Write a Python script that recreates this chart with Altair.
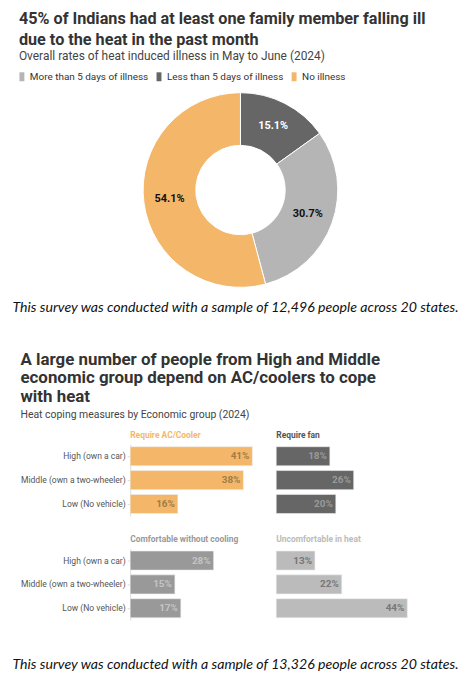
import altair as alt
import pandas as pd

# ---------------- data ----------------
title1 = ["45% of Indians had at least one family member falling ill",
          "due to the heat in the past month"]
subtitle1 = "Overall rates of heat induced illness in May to June (2024)"
ill_cats = ["Less than 5 days of illness", "More than 5 days of illness", "No illness"]
ill_vals = [15.1, 30.7, 54.1]
legend_order = ["More than 5 days of illness", "Less than 5 days of illness", "No illness"]
legend_colors = ["#b5b5b5", "#666666", "#f4b76a"]
footnote1 = "This survey was conducted with a sample of 12,496 people across 20 states."

title2 = ["A large number of people from High and Middle",
          "economic group depend on AC/coolers to cope",
          "with heat"]
subtitle2 = "Heat coping measures by Economic group (2024)"
groups = ["High (own a car)", "Middle (own a two-wheeler)", "Low (No vehicle)"]
measures = ["Require AC/Cooler", "Require fan", "Comfortable without cooling", "Uncomfortable in heat"]
ac = [41, 38, 16]
fan = [18, 26, 20]
comfortable = [28, 15, 17]
uncomfortable = [13, 22, 44]
footnote2 = "This survey was conducted with a sample of 13,326 people across 20 states."

TITLE_FONT = "Roboto"
BODY_FONT = "Roboto"

# ---------------- donut ----------------
donut_df = pd.DataFrame({
    "cat": ill_cats,
    "val": ill_vals,
    "ord": list(range(len(ill_cats))),
    "label": [f"{v}%" for v in ill_vals],
})

dbase = alt.Chart(donut_df).encode(
    theta=alt.Theta("val:Q", stack=True),
    order=alt.Order("ord:Q"),
)
arcs = dbase.mark_arc(innerRadius=45, outerRadius=98, stroke="white", strokeWidth=1).encode(
    color=alt.Color(
        "cat:N",
        scale=alt.Scale(domain=legend_order, range=legend_colors),
        legend=alt.Legend(
            title=None, orient="none", legendX=-114, legendY=-21, direction="horizontal",
            symbolType="M-0.55,-1H0.55V1H-0.55Z", symbolSize=81, symbolStrokeWidth=0,
            labelFontSize=10, labelColor="#333", labelFont=BODY_FONT,
            columnPadding=5, labelOffset=3, symbolOffset=0,
        ),
    )
)
dlabels = dbase.mark_text(radius=72, fontWeight="bold", fontSize=11, font=BODY_FONT).encode(
    text="label:N",
    color=alt.condition(alt.datum.ord == 0, alt.value("white"), alt.value("#111")),
)
donut = (arcs + dlabels).properties(
    width=222, height=196,
    title=alt.TitleParams(
        text=title1, subtitle=subtitle1, anchor="start", font=TITLE_FONT, dx=-112,
        fontSize=16.3, fontWeight="bold", color="#333", lineHeight=21,
        subtitleFont=BODY_FONT, subtitleFontSize=12, subtitleColor="#444",
        subtitlePadding=3, offset=29,
    ),
)

# ---------------- footnotes ----------------
def footnote(txt, h, ty):
    return alt.Chart(pd.DataFrame({"t": [txt]})).mark_text(
        font="Lato", fontStyle="italic", fontSize=14.25, color="#111",
        align="center", baseline="middle",
    ).encode(text="t:N", x=alt.value(106), y=alt.value(ty)).properties(width=222, height=h)

foot1 = footnote(footnote1, 62, 19)
foot2 = footnote(footnote2, 58, 45)

# ---------------- bar panels ----------------
def panel(vals, title, title_color, bar_color, text_color, show_axis):
    df = pd.DataFrame({"group": groups, "val": vals, "label": [f"{v}%" for v in vals]})
    if show_axis:
        yaxis = alt.Axis(title=None, labelFontSize=8.6, labelColor="#555", labelFont=BODY_FONT,
                         domainColor="#dddddd", tickColor="#dddddd", tickSize=3, labelPadding=2)
    else:
        yaxis = None
    base = alt.Chart(df).encode(
        y=alt.Y("group:N", sort=groups, scale=alt.Scale(paddingInner=0.2, paddingOuter=0.1), axis=yaxis),
        x=alt.X("val:Q", scale=alt.Scale(domain=[0, 44]), axis=None),
    )
    bars = base.mark_bar(color=bar_color, stroke="#eeeeee", strokeWidth=0.6)
    txt = base.mark_text(align="right", dx=-3, fontWeight="bold", fontSize=10,
                         font=BODY_FONT, color=text_color).encode(text="label:N")
    return (bars + txt).properties(
        width=132, height=72,
        title=alt.TitleParams(title, anchor="start", frame="group", color=title_color, fontSize=8.5,
                              fontWeight="bold", font=BODY_FONT, offset=5),
    )

p1 = panel(ac, measures[0], "#f4b76a", "#f4b76a", "#a07c46", True)
p2 = panel(fan, measures[1], "#555555", "#666666", "#9a9a9a", False)
p3 = panel(comfortable, measures[2], "#999999", "#999999", "#c4c4c4", True)
p4 = panel(uncomfortable, measures[3], "#bbbbbb", "#bbbbbb", "#777777", False)

row1 = alt.hconcat(p1, p2, spacing=14)
row2 = alt.hconcat(p3, p4, spacing=14)
bars_section = alt.vconcat(row1, row2, spacing=19).properties(
    title=alt.TitleParams(
        text=title2, subtitle=subtitle2, anchor="start", font=TITLE_FONT,
        fontSize=17, fontWeight="bold", color="#333", lineHeight=18.5,
        subtitleFont=BODY_FONT, subtitleFontSize=10.5, subtitleColor="#444",
        subtitlePadding=4, offset=10,
    )
)

chart = alt.vconcat(donut, foot1, bars_section, foot2, spacing=0).properties(
    padding={"left": 3, "top": 0, "right": 0, "bottom": 0},
    background="white",
).configure_view(strokeWidth=0)

chart.save("out.html", embed_options={"renderer": "svg", "actions": False})
